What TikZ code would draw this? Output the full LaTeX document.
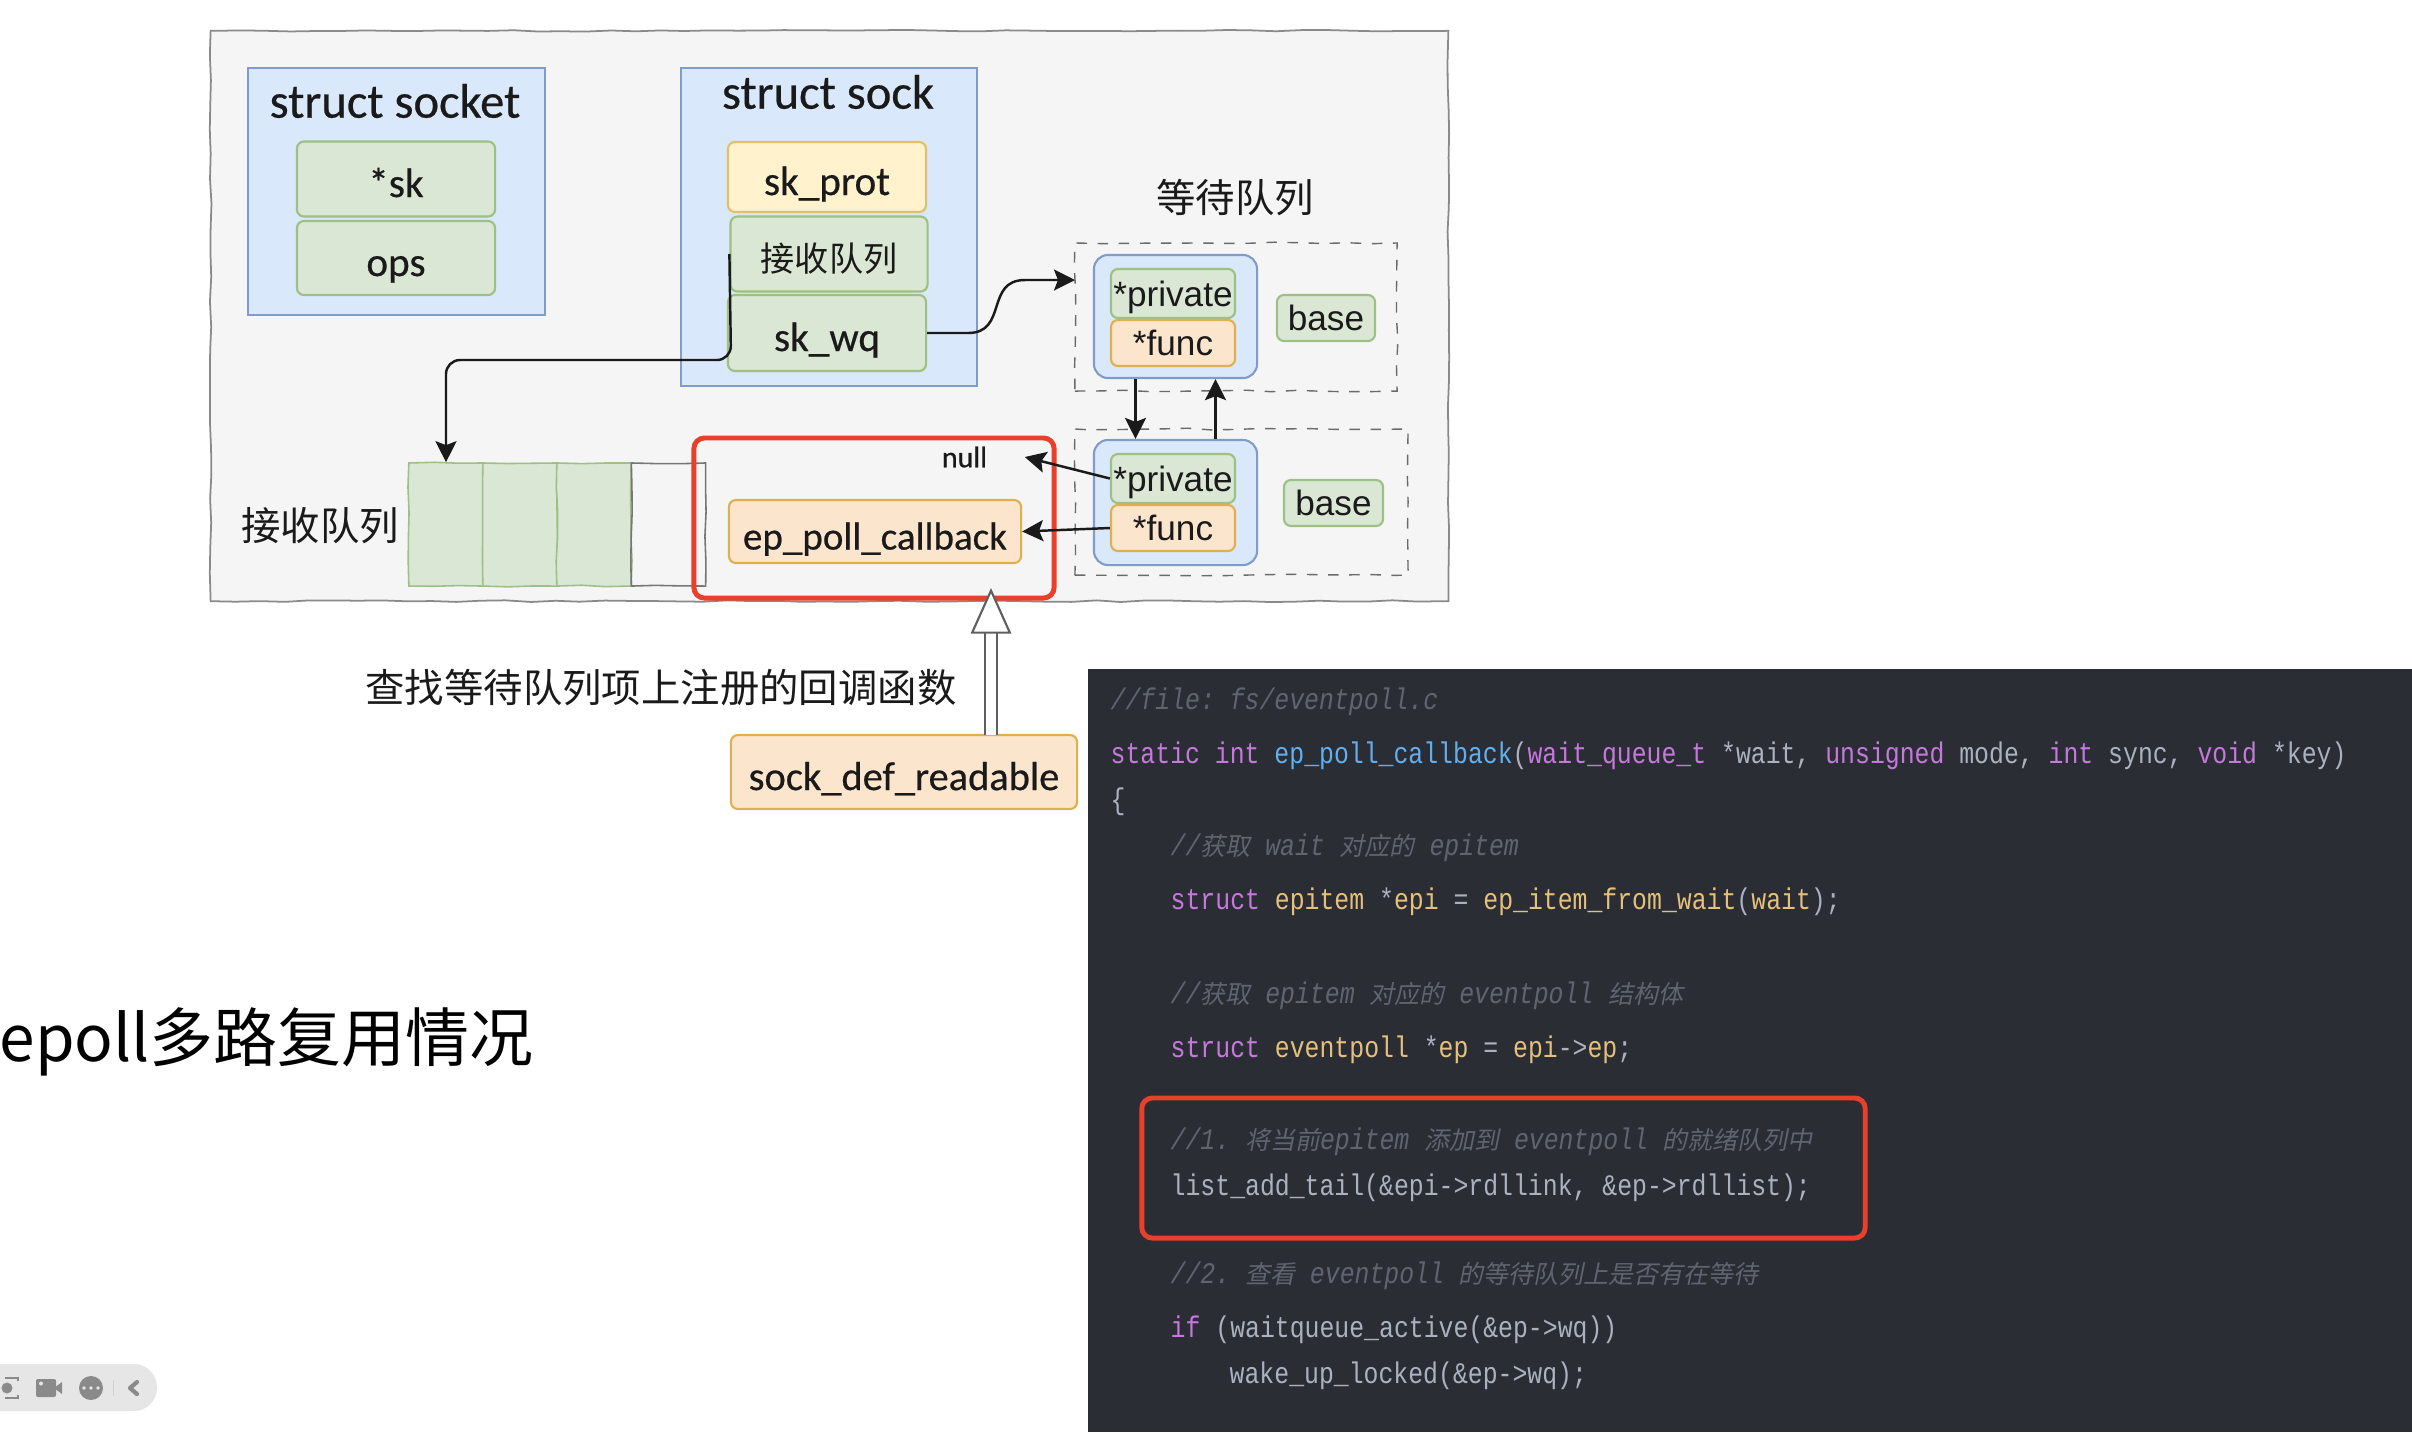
\documentclass[tikz,border=0pt]{standalone}
\usepackage{fontspec}
\usepackage{xcolor}
\usetikzlibrary{arrows.meta,positioning,calc,decorations.pathmorphing}
\setmainfont{Liberation Sans}
\newfontfamily\handfont[FakeBold=0.5]{Carlito}
\newfontfamily\cjkfont{Noto Sans CJK SC}
\newfontfamily\codefont[FakeStretch=0.83]{Liberation Mono}
\newfontfamily\cjkslant[FakeSlant=0.2]{Noto Sans CJK SC}
\definecolor{ink}{HTML}{1A1A1A}
\definecolor{panelgray}{HTML}{F5F5F5}
\definecolor{panelline}{HTML}{8A8A8A}
\definecolor{bluefill}{HTML}{DAE8FC}
\definecolor{blueline}{HTML}{7F9CCB}
\definecolor{greenfill}{HTML}{D9E7D4}
\definecolor{greenline}{HTML}{9DC085}
\definecolor{yellowfill}{HTML}{FFF2CC}
\definecolor{yellowline}{HTML}{E3C065}
\definecolor{orangefill}{HTML}{FCE5CD}
\definecolor{orangeline}{HTML}{E0B050}
\definecolor{markred}{HTML}{E8402A}
\definecolor{codebg}{HTML}{2B2D35}
\definecolor{codegray}{HTML}{ABB2BF}
\definecolor{codenote}{HTML}{5F6570}
\definecolor{codepurple}{HTML}{C678DD}
\definecolor{codeblue}{HTML}{61AFEF}
\definecolor{codeyellow}{HTML}{E5C07B}
\definecolor{barfill}{HTML}{E6E6E6}
\definecolor{baricon}{HTML}{8A8A8A}
\newcommand{\ckw}[1]{\textcolor{codepurple}{#1}}
\newcommand{\cfn}[1]{\textcolor{codeblue}{#1}}
\newcommand{\cvar}[1]{\textcolor{codeyellow}{#1}}
\newcommand{\cnote}[1]{{\cjkslant\fontsize{7.1}{8}\selectfont #1}}
\tikzset{
  sketchy/.style={decorate,decoration={random steps,segment length=7pt,amplitude=0.25pt}},
  box/.style={draw,inner sep=0pt,align=center,text=ink},
  structbox/.style={box,draw=blueline,fill=bluefill,line width=0.45pt},
  greenbox/.style={box,draw=greenline,fill=greenfill,rounded corners=2pt,line width=0.6pt},
  yellowbox/.style={box,draw=yellowline,fill=yellowfill,rounded corners=2pt,line width=0.6pt},
  orangebox/.style={box,draw=orangeline,fill=orangefill,rounded corners=2pt,line width=0.6pt},
  roundblue/.style={box,draw=blueline,fill=bluefill,rounded corners=4pt,line width=0.6pt},
  dashbox/.style={box,sketchy,draw=ink!65,dashed,line width=0.4pt},
  qcell/.style={box,sketchy,draw=greenline,fill=greenfill,minimum width=0.743cm,minimum height=1.23cm,line width=0.45pt},
  redmark/.style={box,draw=markred,rounded corners=3pt,line width=1.4pt},
  hand/.style={font=\handfont\fontsize{11.7}{13}\selectfont,text height=0.36cm,text depth=0pt},
  handtitle/.style={inner sep=0pt,text=ink,font=\handfont\fontsize{13.8}{16}\selectfont},
  sans/.style={font=\fontsize{10}{12}\selectfont},
  zhlabel/.style={font=\cjkfont\fontsize{11.2}{13}\selectfont,text=ink,inner sep=0pt},
  codeline/.style={anchor=base west,inner sep=0pt,text=codegray,font=\codefont\fontsize{8.5}{10}\selectfont\frenchspacing},
  conn/.style={-{Stealth[length=2.1mm,width=2.1mm,inset=0.4mm]},line width=0.7pt,draw=ink},
}
\begin{document}
\begin{tikzpicture}[x=0.01cm,y=-0.01cm]
  \pgfmathsetseed{42}
  \useasboundingbox (0,0) rectangle (2412,1432);
  \fill[white] (0,0) rectangle (2412,1432);

  \node[box,sketchy,draw=panelline,fill=panelgray,minimum width=12.37cm,minimum height=5.70cm,line width=0.5pt] (outer) at (829.5,316) {};

  \node[structbox,minimum width=2.97cm,minimum height=2.47cm] (socket) at (396.5,191.5) {};
  \node[handtitle] (sockettitle) at (395,101) {struct socket};
  \node[greenbox,hand,minimum width=1.98cm,minimum height=0.75cm] (sk) at (396,179) {*sk};
  \node[greenbox,hand,minimum width=1.98cm,minimum height=0.74cm] (ops) at (396,258) {ops};

  \node[structbox,minimum width=2.96cm,minimum height=3.18cm] (sock) at (829,227) {};
  \node[handtitle] (socktitle) at (828,92) {struct sock};
  \node[yellowbox,hand,minimum width=1.98cm,minimum height=0.70cm] (skprot) at (827,177) {sk\_prot};
  \node[greenbox,minimum width=1.97cm,minimum height=0.75cm,font=\cjkfont\fontsize{9.7}{11}\selectfont,text height=0.34cm,text depth=0pt] (recv) at (829,254) {接收队列};
  \node[greenbox,hand,minimum width=1.98cm,minimum height=0.76cm] (skwq) at (827,333) {sk\_wq};

  \node[zhlabel] (waitlabel) at (1235,198) {等待队列};
  \node[dashbox,minimum width=3.22cm,minimum height=1.48cm] (wait1) at (1236,317) {};
  \node[roundblue,minimum width=1.63cm,minimum height=1.23cm] (blue1) at (1175.5,316.5) {};
  \node[greenbox,sans,text depth=0pt,minimum width=1.24cm,minimum height=0.49cm] (private1) at (1173,293.5) {*private};
  \node[orangebox,sans,minimum width=1.24cm,minimum height=0.46cm] (func1) at (1173,343) {*func};
  \node[greenbox,sans,minimum width=0.98cm,minimum height=0.46cm] (base1) at (1326,318) {base};

  \node[dashbox,minimum width=3.33cm,minimum height=1.46cm] (wait2) at (1241.5,502) {};
  \node[roundblue,minimum width=1.63cm,minimum height=1.25cm] (blue2) at (1175.5,502.5) {};
  \node[greenbox,sans,text depth=0pt,minimum width=1.24cm,minimum height=0.49cm] (private2) at (1173,478.5) {*private};
  \node[orangebox,sans,minimum width=1.24cm,minimum height=0.46cm] (func2) at (1173,528) {*func};
  \node[greenbox,sans,minimum width=0.99cm,minimum height=0.46cm] (base2) at (1333.5,503) {base};

  \node[zhlabel] (queuelabel) at (320,526) {接收队列};
  \foreach \i [count=\n from 0] in {446,520,594} {
    \node[qcell] (cell\n) at (\i,524.5) {};
  }
  \node[qcell,draw=ink!60,fill=none] (cell3) at (668.5,524.5) {};

  \node[orangebox,hand,font=\handfont\fontsize{11.1}{13}\selectfont,minimum width=2.92cm,minimum height=0.63cm] (epcb) at (875,531.5) {ep\_poll\_callback};
  \node[inner sep=0pt,text=ink,font=\handfont\fontsize{8.5}{10}\selectfont] (null) at (964.5,457) {null};
  \node[redmark,minimum width=3.60cm,minimum height=1.60cm] (redbox) at (874,518) {};

  \coordinate (bendq) at (731,360);
  \coordinate (waitin) at (1075,280);
  \draw[conn,rounded corners=0.14cm] (recv.west) -- (bendq) -| (cell0.north);
  \draw[conn] (skwq.east) -- (968,333) .. controls (1008,333) and (985,280) .. (1025,280) -- (waitin);
  \draw[conn] ([xshift=-0.4cm]blue1.south) -- ([xshift=-0.4cm]blue2.north);
  \draw[conn] ([xshift=0.4cm]blue2.north) -- ([xshift=0.4cm]blue1.south);
  \draw[conn] (private2.west) -- ([xshift=0.37cm]null.east);
  \draw[conn] (func2.west) -- (epcb.east);

  \node[orangebox,hand,font=\handfont\fontsize{11.5}{13}\selectfont,minimum width=3.46cm,minimum height=0.74cm] (sockdef) at (904,772) {sock\_def\_readable};
  \node[zhlabel] (lookup) at (661,688) {查找等待队列项上注册的回调函数};
  \coordinate (hollowstart) at (991,735);
  \coordinate (hollowend) at (991,588);
  \draw[draw=ink!70,line width=0.6pt,double=white,double distance=2.8pt,-{Triangle[open,length=13pt,width=11.5pt,fill=white]}] (hollowstart) -- (hollowend);

  \node[anchor=west,inner sep=0pt,text=black,font=\cjkfont\fontsize{18.2}{21}\selectfont] (headline) at (-1,1042) {epoll多路复用情况};

  \fill[codebg] (1088,669) rectangle (2412,1432);
  \foreach \ly/\lx/\ltext in {
    709.5/1110/{\textcolor{codenote}{\itshape //file: fs/eventpoll.c}},
    763.5/1110/{\ckw{static} \ckw{int} \cfn{ep\_poll\_callback}(\ckw{wait\_queue\_t} *wait, \ckw{unsigned} mode, \ckw{int} sync, \ckw{void} *key)},
    809.5/1110/{\{},
    855.5/1170/{\textcolor{codenote}{\itshape //\cnote{获取} wait \cnote{对应的} epitem}},
    909.5/1170/{\ckw{struct} \cvar{epitem} *\cvar{epi} = \cvar{ep\_item\_from\_wait}(\cvar{wait});},
    1003.5/1170/{\textcolor{codenote}{\itshape //\cnote{获取} epitem \cnote{对应的} eventpoll \cnote{结构体}}},
    1057.5/1170/{\ckw{struct} \cvar{eventpoll} *\cvar{ep} = \cvar{epi}->\cvar{ep};},
    1149.5/1170/{\textcolor{codenote}{\itshape //1. \cnote{将当前}epitem \cnote{添加到} eventpoll \cnote{的就绪队列中}}},
    1195.5/1170/{list\_add\_tail(\&epi->rdllink, \&ep->rdllist);},
    1283.5/1170/{\textcolor{codenote}{\itshape //2. \cnote{查看} eventpoll \cnote{的等待队列上是否有在等待}}},
    1337.5/1170/{\ckw{if} (waitqueue\_active(\&ep->wq))},
    1383.5/1229/{wake\_up\_locked(\&ep->wq);}}
  {
    \node[codeline] at (\lx,\ly) {\ltext};
  }
  \node[redmark,minimum width=7.23cm,minimum height=1.40cm] (codemark) at (1503.5,1168) {};

  \fill[barfill,rounded corners=0.23cm] (-40,1364) rectangle (157,1411);
  \draw[baricon,line width=0.8pt,dash pattern=on 4.5pt off 4pt] (-5,1378) rectangle (18,1398);
  \fill[baricon] (7,1388) circle (5.5);
  \fill[baricon,rounded corners=0.02cm] (36,1379) rectangle (56,1397);
  \fill[baricon] (54,1388) -- (62,1382) -- (62,1394) -- cycle;
  \fill[barfill] (41,1383.5) circle (2);
  \fill[baricon] (91,1388) circle (12);
  \foreach \d in {84,91,98} {\fill[barfill] (\d,1388) circle (1.8);}
  \draw[barfill!90!black,line width=0.2pt] (113,1380) -- (113,1396);
  \draw[baricon,line width=1.2pt,line cap=round,line join=round] (137,1382) -- (130,1388) -- (137,1394);
\end{tikzpicture}
\end{document}
